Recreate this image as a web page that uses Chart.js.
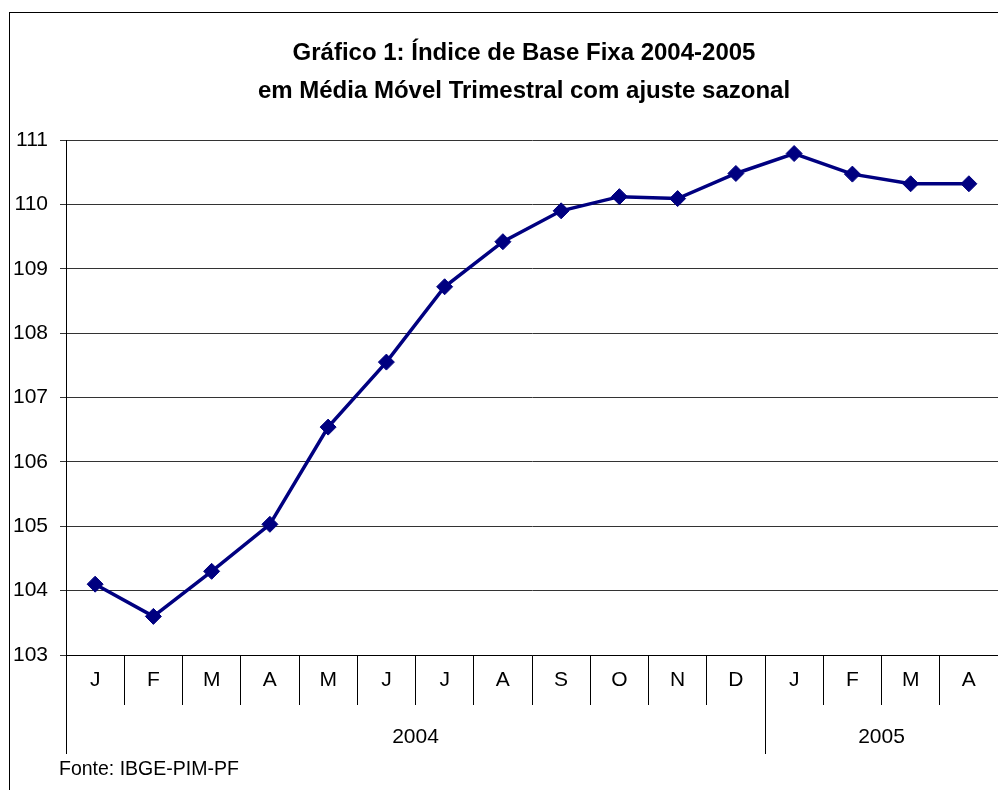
<!DOCTYPE html>
<html>
<head>
<meta charset="utf-8">
<script src="https://cdn.jsdelivr.net/npm/chart.js@4.4.0/dist/chart.umd.min.js"></script>
<style>
  html, body { margin: 0; padding: 0; background: #fff; overflow: hidden; }
  #wrap { width: 998px; height: 790px; overflow: hidden; }
</style>
</head>
<body>
<div id="wrap"><canvas id="grafico" width="1007" height="790"></canvas></div>
<script>
// valores (indice, media movel trimestral)
const months = ['J', 'F', 'M', 'A', 'M', 'J', 'J', 'A', 'S', 'O', 'N', 'D', 'J', 'F', 'M', 'A'];
const indexValues = [104.10, 103.60, 104.30, 105.03, 106.54, 107.55, 108.72, 109.42,
                     109.90, 110.12, 110.09, 110.48, 110.79, 110.47, 110.32, 110.32];
const yearLabels = ['2004', '2005'];
const yearMonthCounts = [12, 4];
const titleLines = ['Gráfico 1: Índice de Base Fixa 2004-2005', 'em Média Móvel Trimestral com ajuste sazonal'];
const sourceNote = 'Fonte: IBGE-PIM-PF';

const FONT = "Arial, 'Liberation Sans', sans-serif";

const extras = {
    id: 'extras',
    beforeDraw(chart) {
        const ctx = chart.ctx;
        ctx.save();
        ctx.strokeStyle = '#000';
        ctx.lineWidth = 1;
        ctx.strokeRect(9.5, 12.5, 2000, 2000);
        ctx.restore();
    },
    afterDraw(chart) {
        const ctx = chart.ctx;
        const x = chart.scales.x;
        const bottom = chart.chartArea.bottom;
        const half = (x.getPixelForValue(1) - x.getPixelForValue(0)) / 2;
        let start = 0;
        ctx.save();
        ctx.fillStyle = '#000';
        ctx.textAlign = 'center';
        ctx.textBaseline = 'middle';
        // titulo (duas linhas), centrado na moldura
        ctx.font = 'bold 24px ' + FONT;
        titleLines.forEach((t, i) => ctx.fillText(t, 524, 53 + i * 38));

        // linha dos anos
        ctx.strokeStyle = '#000';
        ctx.lineWidth = 1;
        ctx.font = '21px ' + FONT;
        yearLabels.forEach((yr, i) => {
            const end = start + yearMonthCounts[i] - 1;
            const left = x.getPixelForValue(start) - half;
            const right = x.getPixelForValue(end) + half;
            const lx = Math.round(left) + 0.5;
            ctx.beginPath();
            ctx.moveTo(lx, bottom);
            ctx.lineTo(lx, bottom + 99);
            ctx.stroke();
            ctx.fillText(yr, (left + right) / 2, bottom + 82);
            start = end + 1;
        });
        ctx.textAlign = 'left';
        ctx.font = '19.5px ' + FONT;
        ctx.fillText(sourceNote, 59, 770);
        ctx.restore();
    }
};

const ctx = document.getElementById('grafico').getContext('2d');
const myChart = new Chart(ctx, {
    type: 'line',
    data: {
        labels: months,
        datasets: [{
            label: 'Índice',
            data: indexValues,
            fill: false,
            borderColor: '#000080',
            backgroundColor: '#000080',
            borderWidth: 3.5,
            tension: 0,
            pointStyle: 'rectRot',
            pointRadius: 8,
            pointBackgroundColor: '#000080',
            pointBorderColor: '#000080',
            pointBorderWidth: 1
        }]
    },
    options: {
        responsive: false,
        devicePixelRatio: 1,
        animation: false,
        layout: { padding: { left: 8, right: 0, top: 140, bottom: 0 } },
        plugins: {
            legend: { display: false },
            tooltip: { enabled: false },
            title: { display: false }
        },
        scales: {
            x: {
                offset: true,
                afterFit(scale) {
                    scale.height = 135;
                    scale.paddingLeft = 0;
                    scale.paddingRight = 0;
                },
                grid: { offset: true, drawOnChartArea: false, tickLength: 50, color: '#000' },
                border: { color: '#000', width: 1 },
                ticks: {
                    color: '#000',
                    font: { family: FONT, size: 21 },
                    padding: -37,
                    autoSkip: false,
                    maxRotation: 0
                }
            },
            y: {
                afterFit(scale) { scale.width = 58; },
                min: 103,
                max: 111,
                grid: { color: '#333', tickLength: 6 },
                border: { color: '#000', width: 1 },
                ticks: {
                    stepSize: 1,
                    color: '#000',
                    padding: 12,
                    font: { family: FONT, size: 21 }
                }
            }
        }
    },
    plugins: [extras]
});
</script>
</body>
</html>
